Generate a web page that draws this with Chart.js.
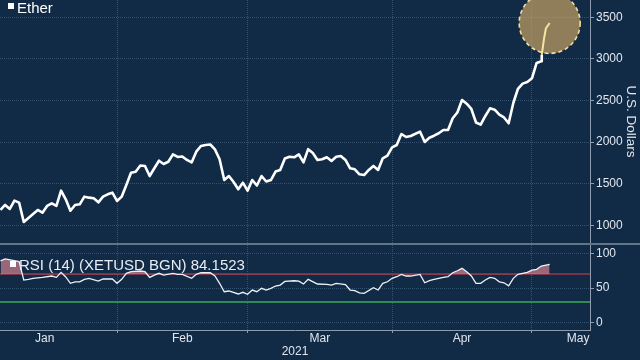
<!DOCTYPE html>
<html>
<head>
<meta charset="utf-8">
<script src="https://cdn.jsdelivr.net/npm/chart.js@4.4.1/dist/chart.umd.min.js"></script>
<style>
  html, body { margin: 0; padding: 0; background: #112a46; }
  #wrap { position: relative; width: 640px; height: 360px; overflow: hidden; background: #112a46;
          font-family: "Liberation Sans", Arial, sans-serif; }
  canvas { position: absolute; left: 0; }
  #priceChart { top: 0; }
  #rsiChart { top: 245px; }
  #divider { position: absolute; left: 0; top: 243px; width: 640px; height: 2px; background: #637487; }
  .legend { position: absolute; color: #fff; font-size: 15px; line-height: 15px; white-space: nowrap; }
  .legend i { position: absolute; width: 6px; height: 6px; background: #fff; }
</style>
</head>
<body>
<div id="wrap">
  <canvas id="priceChart" width="640" height="243"></canvas>
  <div id="divider"></div>
  <canvas id="rsiChart" width="640" height="115"></canvas>
  <div class="legend" style="left:17px;top:0px"><i style="left:-9px;top:3px"></i>Ether</div>
  <div class="legend" style="left:19px;top:257px;color:#e8edf3"><i style="left:-9px;top:4px"></i>RSI (14) (XETUSD BGN) 84.1523</div>
</div>
<script>
// day of 2021 (Jan 1 = 0)
const priceDays = [6, 7, 8, 9, 10, 11, 14, 15, 16, 17, 18, 19, 20, 21, 22, 23, 24, 25, 26, 27,
  28, 29, 30, 31, 32, 33, 34, 35, 36, 37, 38, 39, 40, 41, 42, 43, 44, 45, 46, 47,
  48, 49, 50, 51, 52, 53, 54, 55, 56, 57, 58, 59, 60, 61, 62, 63, 64, 65, 66, 67,
  68, 69, 70, 71, 72, 73, 74, 75, 76, 77, 78, 79, 80, 81, 82, 83, 84, 85, 86, 87,
  88, 89, 90, 91, 92, 93, 94, 96, 97, 98, 99, 100, 101, 102, 103, 104, 105, 106, 107, 108,
  109, 110, 111, 112, 113, 114, 115, 116, 117, 118, 119, 120, 121, 122, 122.1, 122.6, 123, 123.8];
const priceValues = [1184, 1244, 1196, 1296, 1272, 1040, 1184, 1151, 1232, 1264,
  1232, 1416, 1312, 1175, 1244, 1252, 1344, 1332, 1324, 1276,
  1344, 1372, 1392, 1292, 1344, 1484, 1632, 1644, 1719, 1713,
  1592, 1685, 1776, 1737, 1764, 1853, 1821, 1827, 1785, 1755,
  1885, 1953, 1965, 1971, 1913, 1793, 1544, 1592, 1520, 1433,
  1512, 1416, 1544, 1478, 1592, 1526, 1544, 1646, 1665, 1803,
  1824, 1817, 1851, 1757, 1915, 1869, 1785, 1793, 1817, 1773,
  1824, 1833, 1785, 1685, 1673, 1613, 1604, 1665, 1713, 1665,
  1805, 1836, 1937, 1965, 2097, 2061, 2073, 2125, 2001, 2053,
  2077, 2106, 2145, 2145, 2286, 2356, 2506, 2461, 2398, 2236,
  2209, 2314, 2406, 2389, 2330, 2296, 2226, 2470, 2641, 2703,
  2722, 2767, 2951, 2972, 3047, 3248, 3368, 3432];

const rsiDays = [6, 7, 10, 11, 12, 13, 15, 17, 18, 19, 20, 21, 22, 23, 24, 25, 27, 28, 30, 31,
  32, 33, 34, 36, 37, 38, 39, 40, 41, 43, 44, 45, 47, 48, 49, 51, 52, 53, 54, 55,
  57, 58, 59, 60, 61, 62, 63, 64, 65, 66, 67, 69, 70, 71, 72, 74, 76, 77, 78, 80,
  81, 82, 83, 84, 86, 87, 88, 89, 90, 91, 92, 93, 94, 96, 97, 98, 99, 101, 102, 103,
  104, 105, 106, 107, 108, 109, 110, 111, 112, 113, 114, 115, 116, 117, 118, 119, 120, 121, 122, 123.8];
const rsiValues = [89, 92, 88, 61.5, 62.5, 64, 65.4, 67.3, 65.4, 72.6, 66, 56.8, 59, 59, 62.5, 64, 60, 63, 63, 56.8,
  62.5, 71.2, 73.5, 74.5, 73.5, 65.4, 68.7, 71.2, 68.7, 71.2, 69.7, 69.7, 64, 69.7, 72, 72, 67.3, 56.8, 44.7, 45.7,
  41.4, 43.8, 40.9, 47.1, 44.7, 49.6, 47.1, 49.6, 52.9, 54.3, 59.5, 60.5, 60, 55.8, 62.5, 55.8, 55.3, 54.3, 56.8, 55,
  47.1, 46.1, 43, 42.4, 50.4, 47.1, 56.8, 59, 64, 66.3, 69.7, 67.3, 67.3, 69.7, 57.6, 60.5, 62.5, 65.4, 66.3, 72,
  74.9, 78.4, 73.5, 67.3, 56.8, 56.8, 61.5, 65.4, 64, 59, 57.6, 53.3, 64, 69.7, 71.2, 72.6, 75.9, 76.9, 81.7, 84.15];
const rsiLevels = [70, 30];

const priceTicks = [1000, 1500, 2000, 2500, 3000, 3500];
const rsiTicks = [0, 50, 100];
const monthStarts = [31, 59, 90, 120];
// labels sit mid-month; May is pulled in so it stays inside the frame
const monthLabelDays = [15.5, 45, 74.5, 105, 129.9];
const monthLabels = ['Jan', 'Feb', 'Mar', 'Apr', 'May'];
const yearLabel = '2021';
const circleFromDay = 122.1;
const dayMin = 5.9, dayMax = 132.45;

Chart.defaults.font.family = '"Liberation Sans", Arial, sans-serif';

const gridColor = '#34526f';
const axisColor = '#8d9cae';
const labelColor = '#e2e7ee';
const clear = 'rgba(0,0,0,0)';

function fixedWidth(s) { s.width = 50; s.paddingTop = 0; s.paddingBottom = 0; }

// highlight ring round the latest move
const circlePlugin = {
  id: 'circle',
  beforeDatasetsDraw(chart) {
    const { ctx, scales: { x, y } } = chart;
    const n = priceDays.length - 1;
    const cx = x.getPixelForValue(priceDays[n]);
    const cy = y.getPixelForValue(priceValues[n]);
    ctx.save();
    ctx.beginPath();
    ctx.arc(cx, cy, 30.5, 0, Math.PI * 2);
    ctx.fillStyle = 'rgba(214,174,100,0.64)';
    ctx.fill();
    ctx.setLineDash([4, 3]);
    ctx.lineWidth = 1.6;
    ctx.strokeStyle = '#f3dc9f';
    ctx.stroke();
    ctx.restore();
  }
};

const levelPlugin = {
  id: 'levels',
  beforeDatasetsDraw(chart) {
    const { ctx, chartArea: { left, right }, scales: { y } } = chart;
    const colors = ['#7b3248', '#2f8a55'];
    rsiLevels.forEach((v, i) => {
      const py = Math.round(y.getPixelForValue(v));
      ctx.save();
      ctx.strokeStyle = colors[i];
      ctx.lineWidth = 2;
      ctx.beginPath();
      ctx.moveTo(left, py);
      ctx.lineTo(right, py);
      ctx.stroke();
      ctx.restore();
    });
  }
};

new Chart(document.getElementById('priceChart'), {
  type: 'line',
  data: {
    datasets: [{
      data: priceDays.map((d, i) => ({ x: d, y: priceValues[i] })),
      borderColor: '#ffffff',
      borderWidth: 2.6,
      borderJoinStyle: 'round',
      pointRadius: 0,
      tension: 0,
      segment: {
        borderColor: c => priceDays[c.p0DataIndex] >= circleFromDay ? '#f6e3a6' : '#ffffff',
        borderWidth: c => priceDays[c.p0DataIndex] >= circleFromDay ? 2 : 2.6
      }
    }]
  },
  options: {
    responsive: false,
    animation: false,
    events: [],
    layout: { padding: 0 },
    plugins: { legend: { display: false }, tooltip: { enabled: false } },
    scales: {
      x: {
        type: 'linear', min: dayMin, max: dayMax,
        afterBuildTicks: s => { s.ticks = monthStarts.map(v => ({ value: v })); },
        afterFit: s => { s.height = 0; s.paddingLeft = 0; s.paddingRight = 0; },
        ticks: { display: false },
        grid: { color: gridColor, drawTicks: false },
        border: { display: false, dash: [1, 1] }
      },
      y: {
        position: 'right', min: 787, max: 3708,
        afterBuildTicks: s => { s.ticks = priceTicks.map(v => ({ value: v })); },
        afterFit: fixedWidth,
        ticks: { color: labelColor, padding: 2, font: { size: 12 }, callback: v => String(v) },
        grid: { color: gridColor, tickLength: 4, tickColor: axisColor },
        border: { color: axisColor, dash: [1, 1] },
        title: { display: true, text: 'U.S. Dollars', color: labelColor, font: { size: 13.5 }, padding: { top: 1, bottom: 0 } }
      }
    }
  },
  plugins: [circlePlugin]
});

new Chart(document.getElementById('rsiChart'), {
  type: 'line',
  data: {
    datasets: [{
      data: rsiDays.map((d, i) => ({ x: d, y: rsiValues[i] })),
      borderColor: '#eef2f7',
      borderWidth: 1.3,
      pointRadius: 0,
      tension: 0,
      fill: { target: { value: rsiLevels[0] }, above: 'rgba(206,128,140,0.72)', below: clear }
    }]
  },
  options: {
    responsive: false,
    animation: false,
    events: [],
    layout: { padding: 0 },
    plugins: { legend: { display: false }, tooltip: { enabled: false } },
    scales: {
      x: {
        type: 'linear', min: dayMin, max: dayMax,
        afterBuildTicks: s => {
          s.ticks = monthStarts.concat(monthLabelDays).sort((a, b) => a - b).map(v => ({ value: v }));
        },
        afterFit: s => { s.height = 30; s.paddingLeft = 0; s.paddingRight = 0; },
        ticks: {
          autoSkip: false, maxRotation: 0, color: labelColor, padding: 0,
          font: { size: 12, lineHeight: 1 },
          callback: v => { const i = monthLabelDays.indexOf(v); return i < 0 ? '' : monthLabels[i]; }
        },
        grid: {
          color: c => c.tick && monthStarts.includes(c.tick.value) ? gridColor : clear,
          tickColor: c => c.tick && monthStarts.includes(c.tick.value) ? axisColor : clear,
          tickLength: 3
        },
        border: { color: axisColor, dash: [1, 1] },
        title: { display: true, text: yearLabel, color: labelColor, font: { size: 12 }, padding: { top: 0, bottom: 1 } }
      },
      y: {
        position: 'right', min: -10.5, max: 112,
        afterBuildTicks: s => { s.ticks = rsiTicks.map(v => ({ value: v })); },
        afterFit: fixedWidth,
        ticks: { color: labelColor, padding: 2, font: { size: 12 } },
        grid: { color: gridColor, tickLength: 4, tickColor: axisColor },
        border: { color: axisColor, dash: [1, 1] }
      }
    }
  },
  plugins: [levelPlugin]
});
</script>
</body>
</html>
